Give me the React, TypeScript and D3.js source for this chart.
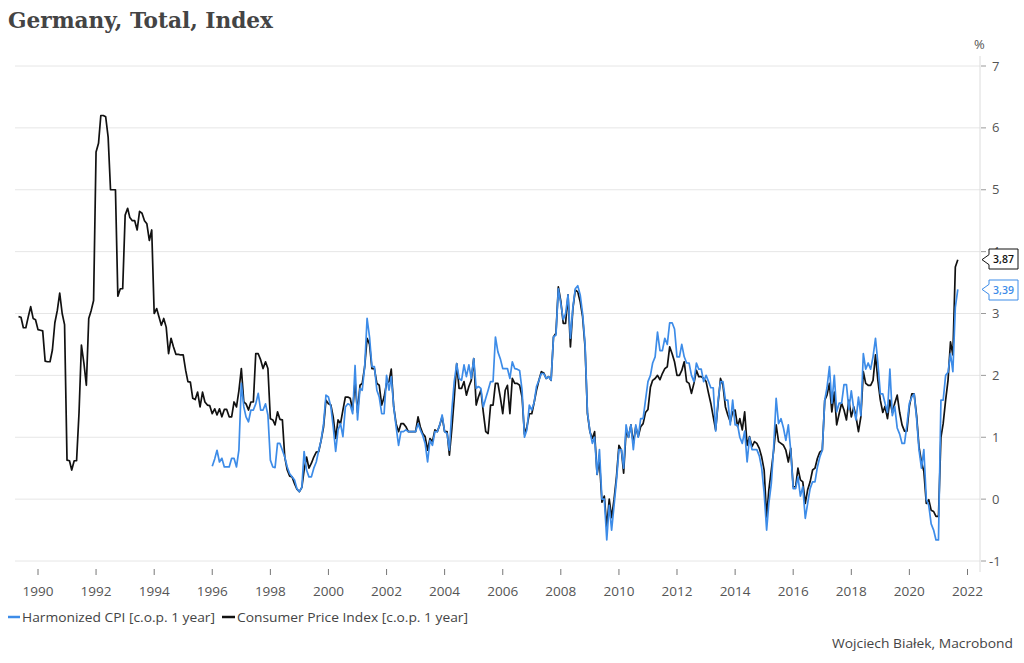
import React from "react";
import * as d3 from "d3";

// Monthly values, first CPI observation plotted at 1 May 1989 (month-end convention)
const cpiStartYear = 1989;
const cpiStartMonth = 4; // May (0-based)
const cpiValues = [
  2.95, 2.94, 2.77, 2.77, 2.95, 3.11, 2.92, 2.90, 2.74, 2.73,
  2.72, 2.23, 2.22, 2.22, 2.41, 2.85, 3.05, 3.33, 3.0, 2.82,
  0.63, 0.62, 0.47, 0.62, 0.62, 1.4, 2.49, 2.2, 1.84, 2.92,
  3.05, 3.21, 5.61, 5.75, 6.20, 6.20, 6.18, 5.85, 5.0, 5.0,
  5.0, 3.28, 3.40, 3.40, 4.59, 4.70, 4.55, 4.50, 4.50, 4.35,
  4.65, 4.62, 4.50, 4.45, 4.18, 4.35, 3.0, 3.08, 2.95, 2.81,
  2.92, 2.78, 2.35, 2.60, 2.46, 2.34, 2.34, 2.33, 2.33, 2.08,
  1.90, 1.89, 1.63, 1.61, 1.73, 1.49, 1.73, 1.57, 1.52, 1.51,
  1.38, 1.46, 1.36, 1.46, 1.33, 1.45, 1.45, 1.33, 1.33, 1.57,
  1.49, 1.75, 2.11, 1.57, 1.54, 1.44, 1.57, 1.57, 2.35, 2.35,
  2.25, 2.11, 2.22, 2.11, 1.30, 1.28, 1.20, 1.41, 1.29, 1.28,
  0.68, 0.47, 0.37, 0.36, 0.25, 0.16, 0.12, 0.19, 0.47, 0.68,
  0.50, 0.58, 0.68, 0.76, 0.77, 0.95, 1.17, 1.60, 1.54, 1.52,
  1.33, 0.98, 1.28, 1.22, 1.44, 1.65, 1.65, 1.63, 1.44, 1.90,
  1.40, 1.84, 1.87, 2.14, 2.60, 2.50, 2.11, 2.11, 1.87, 1.84,
  1.52, 1.65, 1.87, 1.90, 2.10, 1.49, 1.22, 1.09, 1.22, 1.22,
  1.17, 1.09, 1.09, 1.09, 1.09, 1.33, 1.17, 1.06, 1.01, 0.79,
  0.98, 0.93, 1.12, 1.09, 1.20, 1.33, 1.09, 1.09, 0.71, 1.14,
  1.63, 2.19, 1.79, 1.79, 1.90, 1.68, 1.82, 1.92, 2.27, 1.52,
  1.65, 1.76, 1.41, 1.09, 1.06, 1.52, 1.52, 1.87, 1.87, 1.65,
  1.38, 1.76, 1.84, 1.38, 1.95, 1.87, 1.87, 1.84, 1.65, 1.05,
  1.17, 1.38, 1.38, 1.57, 1.76, 1.92, 2.06, 2.04, 1.95, 1.98,
  1.92, 2.62, 2.68, 3.43, 3.20, 2.84, 2.84, 3.30, 2.46, 3.08,
  3.38, 3.35, 3.19, 2.95, 2.46, 1.38, 1.09, 0.98, 1.09, 0.40,
  0.63, -0.05, 0.05, -0.45, 0.0, -0.30, 0.0, 0.36, 0.87, 0.79,
  0.42, 1.10, 1.00, 1.20, 0.90, 1.17, 1.01, 1.17, 1.22, 1.40,
  1.45, 1.81, 1.92, 1.95, 2.00, 1.93, 2.03, 2.11, 2.14, 2.46,
  2.35, 2.22, 2.00, 2.00, 2.08, 2.22, 1.90, 1.87, 1.71, 1.87,
  2.08, 1.98, 1.98, 1.95, 1.90, 1.71, 1.55, 1.33, 1.12, 1.55,
  1.95, 1.84, 1.49, 1.36, 1.25, 1.41, 1.44, 1.17, 1.30, 1.12,
  1.41, 0.87, 1.01, 0.85, 0.93, 0.90, 0.82, 0.68, 0.47, -0.29,
  0.15, 0.47, 0.79, 1.20, 0.93, 0.90, 0.87, 0.79, 0.60, 0.82,
  0.20, 0.20, 0.50, 0.31, 0.28, -0.07, 0.15, 0.28, 0.47, 0.50,
  0.66, 0.76, 0.79, 1.60, 1.68, 1.87, 1.41, 1.73, 1.20, 1.38,
  1.55, 1.44, 1.28, 1.60, 1.33, 1.49, 1.33, 1.09, 1.33, 2.06,
  1.87, 1.84, 1.84, 1.92, 2.33, 1.92, 1.60, 1.40, 1.50, 1.30,
  1.60, 1.40, 1.55, 1.68, 1.40, 1.20, 1.10, 1.10, 1.50, 1.70,
  1.70, 1.35, 0.85, 0.60, 0.45, -0.07, -0.01, -0.18, -0.20, -0.28,
  -0.28, 1.00, 1.22, 1.60, 1.92, 2.54, 2.33, 3.75, 3.87,
];

// Harmonized CPI, first observation plotted at 1 Jan 1996
const hicpStartYear = 1996;
const hicpStartMonth = 0;
const hicpValues = [
  0.53, 0.65, 0.79, 0.60, 0.66, 0.52, 0.52, 0.52, 0.66, 0.66,
  0.52, 0.79, 1.87, 1.49, 1.33, 1.25, 1.44, 1.44, 1.54, 1.71,
  1.44, 1.44, 1.54, 1.36, 0.63, 0.52, 0.51, 0.90, 0.90, 0.79,
  0.68, 0.52, 0.41, 0.36, 0.31, 0.17, 0.12, 0.19, 0.77, 0.47,
  0.36, 0.36, 0.50, 0.60, 0.79, 0.95, 1.22, 1.68, 1.65, 1.49,
  1.17, 0.77, 1.12, 1.22, 1.01, 1.49, 1.54, 1.52, 1.38, 2.16,
  1.28, 1.79, 1.76, 2.14, 2.92, 2.62, 2.14, 2.14, 1.76, 1.65,
  1.38, 1.38, 2.00, 1.76, 1.98, 1.49, 1.17, 0.87, 1.09, 1.09,
  1.12, 1.09, 1.09, 1.09, 1.09, 1.22, 1.12, 1.03, 0.90, 0.60,
  0.95, 0.87, 1.09, 1.09, 1.20, 1.36, 1.09, 1.06, 0.79, 1.44,
  1.90, 2.19, 1.95, 1.92, 2.17, 1.98, 2.17, 1.95, 2.27, 1.79,
  1.82, 1.79, 1.49, 1.63, 1.76, 1.90, 1.90, 2.62, 2.38, 2.27,
  2.11, 2.11, 2.11, 1.95, 2.22, 2.11, 2.10, 2.08, 1.76, 1.00,
  1.12, 1.52, 1.44, 1.57, 1.82, 1.92, 2.03, 2.03, 1.95, 1.98,
  1.92, 2.62, 2.65, 3.40, 3.16, 2.90, 3.00, 3.30, 2.60, 3.10,
  3.40, 3.45, 3.30, 3.00, 2.50, 1.40, 1.10, 0.90, 1.00, 0.40,
  0.80, 0.00, 0.00, -0.66, -0.10, -0.50, -0.10, 0.30, 0.80, 0.80,
  0.50, 1.20, 1.00, 1.20, 0.80, 1.20, 1.00, 1.30, 1.30, 1.60,
  1.90, 2.00, 2.20, 2.30, 2.70, 2.40, 2.40, 2.60, 2.50, 2.85,
  2.85, 2.75, 2.30, 2.30, 2.50, 2.30, 2.20, 2.20, 2.00, 1.90,
  2.20, 2.10, 2.10, 1.90, 2.00, 1.90, 1.80, 1.80, 1.10, 1.60,
  1.90, 1.90, 1.60, 1.60, 1.20, 1.60, 1.20, 1.20, 1.00, 0.90,
  1.10, 0.60, 1.00, 0.80, 0.80, 0.80, 0.70, 0.50, 0.10, -0.50,
  -0.07, 0.25, 0.85, 1.63, 1.22, 1.30, 1.15, 0.95, 1.20, 0.79,
  0.17, 0.17, 0.36, 0.05, 0.20, -0.31, -0.07, 0.17, 0.28, 0.28,
  0.52, 0.68, 0.79, 1.60, 1.80, 2.14, 1.55, 2.00, 1.41, 1.55,
  1.55, 1.85, 1.85, 1.45, 1.75, 1.45, 1.28, 1.65, 1.35, 2.35,
  2.10, 2.20, 2.10, 2.30, 2.60, 2.20, 1.70, 1.70, 1.55, 1.40,
  2.10, 1.35, 1.50, 1.15, 1.05, 0.90, 0.90, 1.20, 1.55, 1.65,
  1.70, 1.30, 0.80, 0.50, 0.80, 0.00, -0.10, -0.40, -0.50, -0.66,
  -0.66, 1.60, 1.60, 2.00, 2.05, 2.35, 2.06, 3.10, 3.39,
];

const yTickValues = [-1, 0, 1, 2, 3, 4, 5, 6, 7];
const xTickYears = [1990, 1992, 1994, 1996, 1998, 2000, 2002, 2004, 2006, 2008, 2010, 2012, 2014, 2016, 2018, 2020, 2022];

const seriesNames = ["Harmonized CPI [c.o.p. 1 year]", "Consumer Price Index [c.o.p. 1 year]"];
const titleText = "Germany, Total, Index";
const sourceText = "Wojciech Białek, Macrobond";

const BLUE = "#3d8ce8";
const BLACK = "#111111";
const FONT = "'Open Sans', 'Noto Sans', sans-serif";

type Pt = { d: Date; v: number };

function toPoints(values: number[], y0: number, m0: number): Pt[] {
  return values.map((v, i) => ({ d: new Date(y0, m0 + i, 1), v }));
}

export default function App() {
  const W = 1024;
  const H = 663;
  const plotLeft = 15;
  const plotRight = 980;

  const x = d3
    .scaleTime()
    .domain([new Date(1990, 0, 1), new Date(2022, 0, 1)])
    .range([38, 967.5]);
  const y = d3.scaleLinear().domain([-1, 7]).range([561, 66]);

  const cpi = toPoints(cpiValues, cpiStartYear, cpiStartMonth);
  const hicp = toPoints(hicpValues, hicpStartYear, hicpStartMonth);

  const line = d3
    .line<Pt>()
    .x((p) => x(p.d))
    .y((p) => y(p.v));

  const fmt = (v: number) => v.toFixed(2).replace(".", ",");

  const lastCpi = cpi[cpi.length - 1];
  const lastHicp = hicp[hicp.length - 1];

  const tag = (v: number, color: string, cy: number) => {
    const tipX = 982;
    const bx = 989;
    const bw = 29;
    const bh = 20;
    const ty = y(v);
    const top = cy - bh / 2;
    const bot = cy + bh / 2;
    const a = Math.min(Math.max(ty, top + 4), bot - 4);
    const p = `M${tipX},${ty} L${bx},${a - 5} L${bx},${top} L${bx + bw},${top} L${bx + bw},${bot} L${bx},${bot} L${bx},${a + 5} Z`;
    return (
      <g>
        <path d={p} fill="#fff" stroke={color} strokeWidth={1} />
        <text
          x={bx + bw / 2}
          y={cy}
          dy="0.35em"
          textAnchor="middle"
          fontFamily={FONT}
          fontSize={10.5}
          fontWeight={600}
          fill={color}
        >
          {fmt(v)}
        </text>
      </g>
    );
  };

  return (
    <div style={{ position: "absolute", left: 0, top: 0 }}>
      <svg width={W} height={H} viewBox={`0 0 ${W} ${H}`} style={{ display: "block", background: "#fff" }}>
        <text
          x={8}
          y={28}
          fontFamily="'DejaVu Serif', 'Liberation Serif', serif"
          fontWeight={700}
          fontSize={22}
          fill="#444"
          textLength={265}
          lengthAdjust="spacingAndGlyphs"
        >
          {titleText}
        </text>

        {yTickValues.map((t) => (
          <line key={"g" + t} x1={plotLeft} x2={plotRight} y1={y(t)} y2={y(t)} stroke="#e6e6e6" strokeWidth={1} />
        ))}

        <line x1={plotRight} x2={plotRight} y1={56} y2={572} stroke="#dcdcdc" strokeWidth={1} />

        {yTickValues.map((t) => (
          <g key={"yt" + t}>
            <line x1={plotRight + 1} x2={plotRight + 6} y1={y(t)} y2={y(t)} stroke="#9a9a9a" strokeWidth={1} />
            <text
              x={t < 0 ? 989 : 992}
              y={y(t)}
              dy="0.35em"
              fontFamily={FONT}
              fontSize={13}
              fill="#555"
            >
              {t}
            </text>
          </g>
        ))}
        <text x={974} y={49} fontFamily={FONT} fontSize={13} fill="#555">
          %
        </text>

        {xTickYears.map((yr) => {
          const xp = x(new Date(yr, 0, 1));
          return (
            <g key={"xt" + yr}>
              <line x1={xp} x2={xp} y1={569} y2={575} stroke="#777" strokeWidth={1} />
              <text
                x={xp}
                y={596}
                textAnchor="middle"
                fontFamily={FONT}
                fontSize={13.5}
                fill="#555"
                textLength={31}
                lengthAdjust="spacingAndGlyphs"
              >
                {yr}
              </text>
            </g>
          );
        })}

        <path d={line(cpi) || ""} fill="none" stroke={BLACK} strokeWidth={1.7} strokeLinejoin="round" />
        <path d={line(hicp) || ""} fill="none" stroke={BLUE} strokeWidth={1.7} strokeLinejoin="round" />

        {tag(lastCpi.v, BLACK, 259)}
        {tag(lastHicp.v, BLUE, 290)}

        <line x1={8} x2={20} y1={617} y2={617} stroke={BLUE} strokeWidth={2.5} />
        <text
          x={22}
          y={617}
          dy="0.35em"
          fontFamily={FONT}
          fontSize={13.5}
          fill="#444"
          textLength={193}
          lengthAdjust="spacingAndGlyphs"
        >
          {seriesNames[0]}
        </text>
        <line x1={222} x2={235} y1={617} y2={617} stroke={BLACK} strokeWidth={2.5} />
        <text
          x={237}
          y={617}
          dy="0.35em"
          fontFamily={FONT}
          fontSize={13.5}
          fill="#444"
          textLength={231}
          lengthAdjust="spacingAndGlyphs"
        >
          {seriesNames[1]}
        </text>

        <text
          x={1013}
          y={648}
          textAnchor="end"
          fontFamily={FONT}
          fontSize={13.5}
          fill="#444"
          textLength={181}
          lengthAdjust="spacingAndGlyphs"
        >
          {sourceText}
        </text>
      </svg>
    </div>
  );
}
